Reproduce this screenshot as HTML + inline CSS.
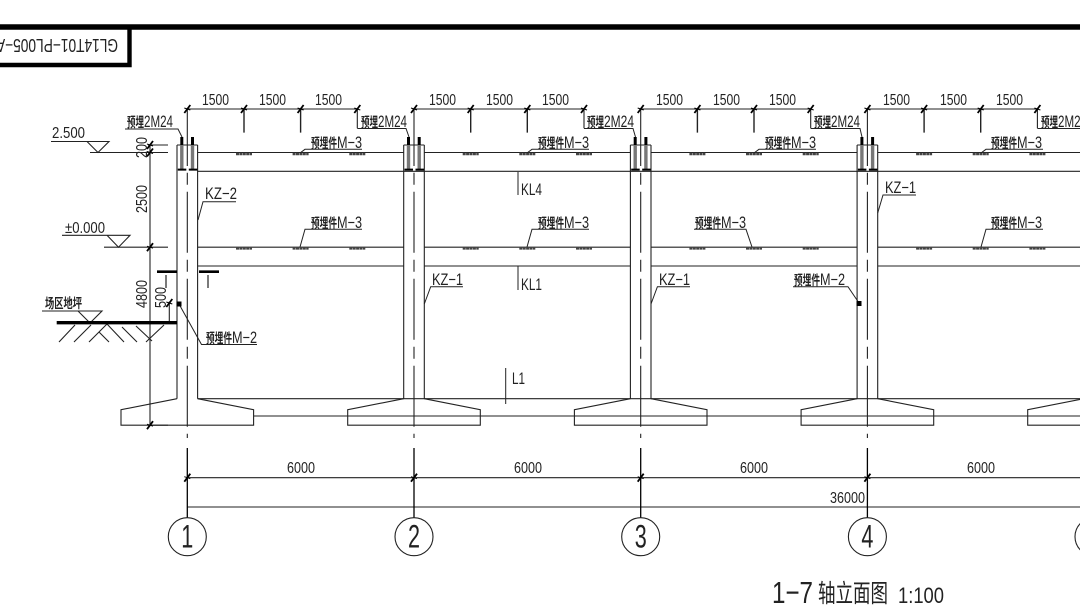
<!DOCTYPE html>
<html><head><meta charset="utf-8"><style>
html,body{margin:0;padding:0;background:#fff;width:1080px;height:607px;overflow:hidden}
svg{display:block}
text{fill:#222;font-family:"Liberation Sans","Noto Sans CJK SC",sans-serif}
.c{font-family:"Noto Sans CJK SC","Liberation Sans",sans-serif;font-size:13.5px;font-weight:700;fill:#222}
.d{font-size:16px}
.s{font-size:16.5px}
.n{font-size:16px}
</style></head><body>
<svg width="1080" height="607" viewBox="0 0 1080 607" xmlns="http://www.w3.org/2000/svg">
<defs>
<g id="tick"><path d="M-3 4L3 -4" stroke="#000" stroke-width="1.8"/><path d="M-3 -1L3 1" stroke="#000" stroke-width="1"/></g>
<g id="mk"><path d="M0 1.5H16" stroke="#444" stroke-width="2.6" stroke-dasharray="3 .4"/></g>
<g id="col" fill="none" stroke="#222" stroke-width="1.1">
<path d="M-10.3 145V398.7M10.3 145V398.7M-10.3 145H10.3"/>
<path d="M-10.3 398.7L-66.3 409.7V425.2H66.3V409.7L10.3 398.7"/>
<path d="M0 109V166" />
<path d="M0 172.7V438" stroke-dasharray="12 7 61 7"/>
<path d="M0 448V517.7" stroke="#000" stroke-width="1.3"/>
<path d="M0 109H170M170 109V128.3" stroke-width="1.1"/>
<path d="M56.7 109V132.6M113.3 109V132.6" stroke="#222" stroke-width="1.4"/>
<path d="M-5.5 137V145M5.2 137V145" stroke="#000" stroke-width="3"/>
<path d="M-5.5 145V169M5.2 145V169" stroke="#777" stroke-width="3.4"/>
<path d="M-9.5 169.6H-1M1.5 169.6H10" stroke="#000" stroke-width="2"/>
<use href="#tick" x="0" y="109"/><use href="#tick" x="56.7" y="109"/><use href="#tick" x="113.3" y="109"/><use href="#tick" x="170" y="109"/>
<use href="#tick" x="0" y="477.7"/>
<circle cx="0" cy="536.7" r="19" stroke-width="1.1"/>
<use href="#mk" x="48.7" y="152.5"/><use href="#mk" x="105.3" y="152.5"/><use href="#mk" x="162" y="152.5"/>
<use href="#mk" x="48.7" y="246.8"/><use href="#mk" x="105.3" y="246.8"/><use href="#mk" x="162" y="246.8"/>
</g>
</defs>

<!-- title block -->
<path d="M0 27H1080" stroke="#000" stroke-width="5.4"/>
<path d="M129.5 27V65H0" fill="none" stroke="#000" stroke-width="4.4"/>
<text transform="translate(118 39) rotate(180)" x="0" y="0" font-size="18" textLength="122" lengthAdjust="spacingAndGlyphs">GL14T01−PL005−A</text>

<!-- beams -->
<g fill="none" stroke="#222" stroke-width="1.1">
<path d="M197.7 152.5H403.7M424.3 152.5H630.4M651 152.5H857.1M877.7 152.5H1080"/>
<path d="M197.7 171.3H1080"/>
<path d="M197.7 247.2H403.7M424.3 247.2H630.4M651 247.2H857.1M877.7 247.2H1080"/>
<path d="M197.7 266H403.7M424.3 266H630.4M651 266H857.1M877.7 266H1080"/>
<path d="M197.7 398.7H1080"/>
<path d="M253.7 416H1080"/>
<path d="M187.3 477.7H1080M187.3 507H1080"/>
</g>

<use href="#col" x="187.3"/><use href="#col" x="414"/><use href="#col" x="640.7"/><use href="#col" x="867.4"/><use href="#col" x="1094"/>

<!-- left dimension & levels -->
<g fill="none" stroke="#222" stroke-width="1.1">
<path d="M150 145V425.2"/>
<path d="M148 145H168M90 152.5H168M104 247.2H168M148 425.2H168"/>
<path d="M51 141.5H109L98 152.5L87 141.5"/>
<path d="M62 235.3H130L118.5 247.2L107 235.3"/>
<path d="M42 311H102L90 323L78 311"/>
<path d="M59 342L75 325M74 342L91 325M89 342L107 324L124 342M99 332L109 342M122 327L137 342M136 326L152 341M146 342L164 325"/>
<path d="M169.3 301.7V323"/>
<path d="M179 304L201.5 344.5H257" stroke-width="1"/>
</g>
<use href="#tick" x="150" y="145"/><use href="#tick" x="150" y="152.5"/><use href="#tick" x="150" y="247.2"/><use href="#tick" x="150" y="425.2"/><use href="#tick" x="169.3" y="303"/>
<path d="M56.7 322.7H177" stroke="#000" stroke-width="3.4"/>
<path d="M157 271.7H177M199 271.7H219" stroke="#000" stroke-width="2.6"/>
<rect x="176.5" y="301.5" width="5" height="5" fill="#000"/>
<path d="M166 275V288M208 275V288" stroke="#222" stroke-width="1.2"/>
<text class="n" x="52" y="138" textLength="33" lengthAdjust="spacingAndGlyphs">2.500</text>
<text class="n" x="65" y="233" textLength="40" lengthAdjust="spacingAndGlyphs">±0.000</text>
<text class="n" transform="translate(147 158) rotate(-90)" x="0" y="0" textLength="21" lengthAdjust="spacingAndGlyphs">200</text>
<text class="n" transform="translate(147 213) rotate(-90)" x="0" y="0" textLength="28" lengthAdjust="spacingAndGlyphs">2500</text>
<text class="n" transform="translate(147 308) rotate(-90)" x="0" y="0" textLength="28" lengthAdjust="spacingAndGlyphs">4800</text>
<text class="n" transform="translate(166 308) rotate(-90)" x="0" y="0" textLength="21" lengthAdjust="spacingAndGlyphs">500</text>
<text class="c" x="45" y="308" textLength="37" lengthAdjust="spacingAndGlyphs">场区地坪</text>

<!-- top 1500 dims -->
<text class="d" x="202" y="105" textLength="27" lengthAdjust="spacingAndGlyphs">1500</text><text class="d" x="259" y="105" textLength="27" lengthAdjust="spacingAndGlyphs">1500</text><text class="d" x="315" y="105" textLength="27" lengthAdjust="spacingAndGlyphs">1500</text>
<text class="d" x="429" y="105" textLength="27" lengthAdjust="spacingAndGlyphs">1500</text><text class="d" x="486" y="105" textLength="27" lengthAdjust="spacingAndGlyphs">1500</text><text class="d" x="542" y="105" textLength="27" lengthAdjust="spacingAndGlyphs">1500</text>
<text class="d" x="656" y="105" textLength="27" lengthAdjust="spacingAndGlyphs">1500</text><text class="d" x="713" y="105" textLength="27" lengthAdjust="spacingAndGlyphs">1500</text><text class="d" x="769" y="105" textLength="27" lengthAdjust="spacingAndGlyphs">1500</text>
<text class="d" x="883" y="105" textLength="27" lengthAdjust="spacingAndGlyphs">1500</text><text class="d" x="940" y="105" textLength="27" lengthAdjust="spacingAndGlyphs">1500</text><text class="d" x="996" y="105" textLength="27" lengthAdjust="spacingAndGlyphs">1500</text>

<!-- 预埋2M24 -->
<g fill="none" stroke="#222" stroke-width="1">
<path d="M125 129H178L182 137"/>
<path d="M357.3 128.5H406L409 137"/>
<path d="M584 128.5H633L635.5 137"/>
<path d="M810.7 128.5H860L862 137"/>
<path d="M1037.4 128.5H1080"/>
</g>
<text class="c" x="127" y="127" textLength="17" lengthAdjust="spacingAndGlyphs">预埋</text><text class="s" x="144" y="127" textLength="29" lengthAdjust="spacingAndGlyphs">2M24</text>
<text class="c" x="361" y="127" textLength="17" lengthAdjust="spacingAndGlyphs">预埋</text><text class="s" x="378" y="127" textLength="29" lengthAdjust="spacingAndGlyphs">2M24</text>
<text class="c" x="587" y="127" textLength="17" lengthAdjust="spacingAndGlyphs">预埋</text><text class="s" x="604" y="127" textLength="30" lengthAdjust="spacingAndGlyphs">2M24</text>
<text class="c" x="814" y="127" textLength="17" lengthAdjust="spacingAndGlyphs">预埋</text><text class="s" x="831" y="127" textLength="29" lengthAdjust="spacingAndGlyphs">2M24</text>
<text class="c" x="1041" y="127" textLength="17" lengthAdjust="spacingAndGlyphs">预埋</text><text class="s" x="1058" y="127" textLength="29" lengthAdjust="spacingAndGlyphs">2M24</text>

<!-- M-3 labels -->
<g fill="none" stroke="#222" stroke-width="1">
<path d="M300 153L305 149.3H362M527 153L532 149.3H589M754 153L759 149.3H816M981 153L986 149.3H1043"/>
<path d="M300 247L305 229.3H362M527 247L532 229.3H589M694 229.3H746L752 247M981 247L986 229.3H1043"/>
<path d="M198 220L203 201.7H236M424.3 304L430.7 286.7H463M651 304L657.4 286.7H690M877.7 213L883 195H916"/>
<path d="M859 303L848 286.7H793"/>
<path d="M518 172V195M518 266V290M505.7 368V404"/>
</g>
<rect x="856.5" y="301" width="5" height="5" fill="#000"/>

<text class="c" x="311" y="148" textLength="26" lengthAdjust="spacingAndGlyphs">预埋件</text><text class="s" x="337" y="148" textLength="25" lengthAdjust="spacingAndGlyphs">M−3</text>
<text class="c" x="538" y="148" textLength="26" lengthAdjust="spacingAndGlyphs">预埋件</text><text class="s" x="564" y="148" textLength="25" lengthAdjust="spacingAndGlyphs">M−3</text>
<text class="c" x="765" y="148" textLength="26" lengthAdjust="spacingAndGlyphs">预埋件</text><text class="s" x="791" y="148" textLength="25" lengthAdjust="spacingAndGlyphs">M−3</text>
<text class="c" x="991" y="148" textLength="26" lengthAdjust="spacingAndGlyphs">预埋件</text><text class="s" x="1017" y="148" textLength="25" lengthAdjust="spacingAndGlyphs">M−3</text>
<text class="c" x="311" y="228" textLength="26" lengthAdjust="spacingAndGlyphs">预埋件</text><text class="s" x="337" y="228" textLength="25" lengthAdjust="spacingAndGlyphs">M−3</text>
<text class="c" x="538" y="228" textLength="26" lengthAdjust="spacingAndGlyphs">预埋件</text><text class="s" x="564" y="228" textLength="25" lengthAdjust="spacingAndGlyphs">M−3</text>
<text class="c" x="695" y="228" textLength="26" lengthAdjust="spacingAndGlyphs">预埋件</text><text class="s" x="721" y="228" textLength="25" lengthAdjust="spacingAndGlyphs">M−3</text>
<text class="c" x="991" y="228" textLength="26" lengthAdjust="spacingAndGlyphs">预埋件</text><text class="s" x="1017" y="228" textLength="25" lengthAdjust="spacingAndGlyphs">M−3</text>
<text class="c" x="206" y="343" textLength="26" lengthAdjust="spacingAndGlyphs">预埋件</text><text class="s" x="232" y="343" textLength="25" lengthAdjust="spacingAndGlyphs">M−2</text>
<text class="c" x="794" y="285" textLength="26" lengthAdjust="spacingAndGlyphs">预埋件</text><text class="s" x="820" y="285" textLength="25" lengthAdjust="spacingAndGlyphs">M−2</text>

<!-- KZ / KL -->
<text class="s" x="205" y="199" textLength="32" lengthAdjust="spacingAndGlyphs">KZ−2</text>
<text class="s" x="432" y="285" textLength="31" lengthAdjust="spacingAndGlyphs">KZ−1</text>
<text class="s" x="659" y="285" textLength="31" lengthAdjust="spacingAndGlyphs">KZ−1</text>
<text class="s" x="885" y="193" textLength="31" lengthAdjust="spacingAndGlyphs">KZ−1</text>
<text class="s" x="521" y="195" textLength="21" lengthAdjust="spacingAndGlyphs">KL4</text>
<text class="s" x="521" y="290" textLength="21" lengthAdjust="spacingAndGlyphs">KL1</text>
<text class="s" x="512" y="384" textLength="13" lengthAdjust="spacingAndGlyphs">L1</text>

<!-- bottom dims -->
<text class="n" x="287" y="473" textLength="28" lengthAdjust="spacingAndGlyphs">6000</text>
<text class="n" x="514" y="473" textLength="28" lengthAdjust="spacingAndGlyphs">6000</text>
<text class="n" x="740" y="473" textLength="28" lengthAdjust="spacingAndGlyphs">6000</text>
<text class="n" x="967" y="473" textLength="28" lengthAdjust="spacingAndGlyphs">6000</text>
<text class="n" x="830" y="503" textLength="35" lengthAdjust="spacingAndGlyphs">36000</text>

<!-- axis numbers -->
<text x="181.3" y="547.5" font-size="32" textLength="12" lengthAdjust="spacingAndGlyphs">1</text>
<text x="408" y="547.5" font-size="32" textLength="12" lengthAdjust="spacingAndGlyphs">2</text>
<text x="634.7" y="547.5" font-size="32" textLength="12" lengthAdjust="spacingAndGlyphs">3</text>
<text x="861.4" y="547.5" font-size="32" textLength="12" lengthAdjust="spacingAndGlyphs">4</text>

<!-- title -->
<text x="772" y="603" font-size="31" textLength="41" lengthAdjust="spacingAndGlyphs">1−7</text>
<text x="818" y="602" font-size="25" textLength="70" lengthAdjust="spacingAndGlyphs" style="font-family:'Noto Sans CJK SC',sans-serif;font-weight:400">轴立面图</text>
<text x="898" y="603" font-size="22" textLength="46" lengthAdjust="spacingAndGlyphs">1:100</text>
</svg>
</body></html>
